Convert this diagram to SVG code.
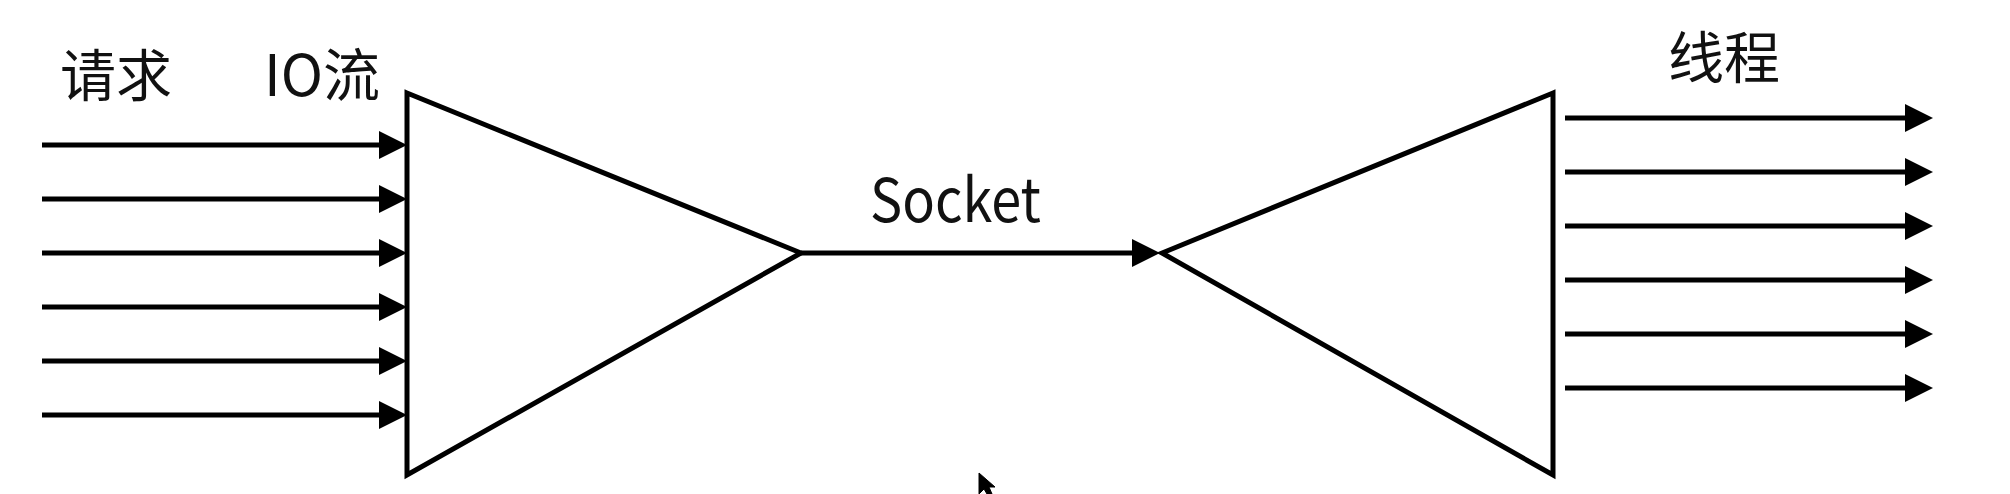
<svg xmlns="http://www.w3.org/2000/svg" width="2010" height="494" viewBox="0 0 2010 494">
  <style>
    .shape { fill: #ffffff; stroke: #000000; stroke-width: 5; stroke-linejoin: miter; }
    .conn { stroke: #000000; stroke-width: 5; fill: none; marker-end: url(#arrow); }
    .label { font-family: "Noto Sans CJK SC", "Noto Sans", sans-serif; fill: #111111; }
  </style>
  <defs>
    <marker id="arrow" markerUnits="userSpaceOnUse" markerWidth="28" markerHeight="28" refX="18" refY="14" orient="auto" viewBox="0 0 28 28">
      <path d="M0,0 L28,14 L0,28 Z" fill="#000000"/>
    </marker>
  </defs>
  <rect width="2010" height="494" fill="#ffffff"/>

  <g id="left-funnel">
    <polygon class="shape" points="407,93 801,253 407,475"/>
  </g>
  <g id="right-funnel">
    <polygon class="shape" points="1553,93 1162,253 1553,475"/>
  </g>

  <g id="connectors">
    <line class="conn" x1="42" y1="145" x2="397" y2="145"/>
    <line class="conn" x1="42" y1="199" x2="397" y2="199"/>
    <line class="conn" x1="42" y1="253" x2="397" y2="253"/>
    <line class="conn" x1="42" y1="307" x2="397" y2="307"/>
    <line class="conn" x1="42" y1="361" x2="397" y2="361"/>
    <line class="conn" x1="42" y1="415" x2="397" y2="415"/>

    <line class="conn" x1="801" y1="253" x2="1150" y2="253"/>

    <line class="conn" x1="1565" y1="118" x2="1923" y2="118"/>
    <line class="conn" x1="1565" y1="172" x2="1923" y2="172"/>
    <line class="conn" x1="1565" y1="226" x2="1923" y2="226"/>
    <line class="conn" x1="1565" y1="280" x2="1923" y2="280"/>
    <line class="conn" x1="1565" y1="334" x2="1923" y2="334"/>
    <line class="conn" x1="1565" y1="388" x2="1923" y2="388"/>
  </g>

  <g id="labels">
    <text class="label" x="60" y="96" font-size="56">请求</text>
    <text class="label" x="264" y="96" font-size="57">IO流</text>
    <text class="label" x="870" y="222" font-size="60" textLength="171" lengthAdjust="spacingAndGlyphs">Socket</text>
    <text class="label" x="1668" y="78" font-size="56">线程</text>
  </g>

  <g id="cursor">
    <path d="M979,473 L979,494 L984,489 L987,494 L992,494 L989,487 L995,487 Z" fill="#000000" stroke="#000000" stroke-width="1"/>
  </g>
</svg>
